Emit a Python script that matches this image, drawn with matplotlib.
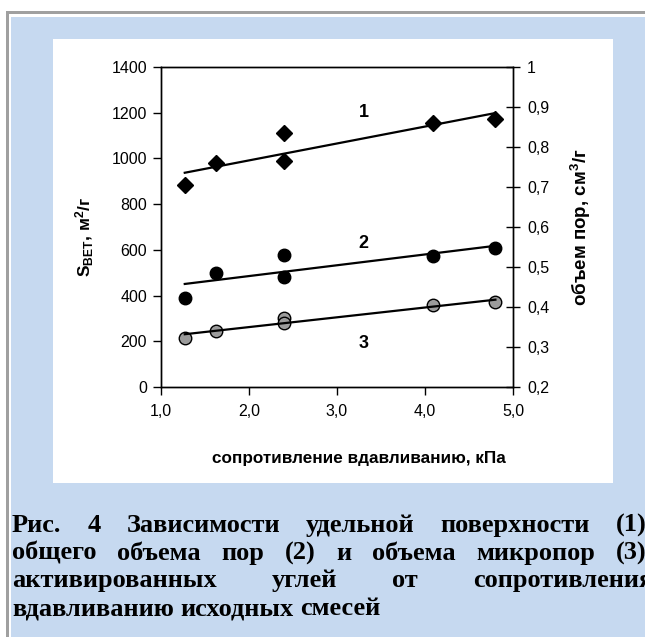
import numpy as np
import matplotlib
matplotlib.use("Agg")
import matplotlib.pyplot as plt
from matplotlib.patches import Rectangle
from matplotlib.ticker import FixedLocator, FuncFormatter

# ---------------- data ----------------
x_vals = [1.27, 1.63, 2.40, 2.40, 4.09, 4.80]          # сопротивление вдавливанию, кПа
s_bet = [884, 978, 1110, 989, 1156, 1171]              # (1) S_BET, м2/г
v_total = [0.422, 0.486, 0.530, 0.476, 0.527, 0.547]   # (2) общий объем пор, см3/г
v_micro = [0.323, 0.341, 0.372, 0.359, 0.404, 0.412]   # (3) объем микропор, см3/г

x_ticks = [1.0, 2.0, 3.0, 4.0, 5.0]
left_ticks = [0, 200, 400, 600, 800, 1000, 1200, 1400]
right_ticks = [0.2, 0.3, 0.4, 0.5, 0.6, 0.7, 0.8, 0.9, 1.0]

caption_lines = [
    ["Рис.", "4", "Зависимости", "удельной", "поверхности", "(1),"],
    ["общего", "объема", "пор", "(2)", "и", "объема", "микропор", "(3),"],
    ["активированных", "углей", "от", "сопротивления"],
    ["вдавливанию", "исходных", "смесей"],
]
caption_justify = [True, True, True, False]

# ---------------- figure ----------------
W, H = 645, 637
fig = plt.figure(figsize=(W / 100, H / 100), dpi=100)
fig.patch.set_facecolor("white")

def fx(px):
    return px / W

def fy(py):
    return 1 - py / H

blue = "#C6D9F0"
grey = "#A0A0A0"
fig.add_artist(Rectangle((fx(11), 0), 1 - fx(11), fy(17), transform=fig.transFigure,
                         facecolor=blue, edgecolor="none", zorder=0))
fig.add_artist(Rectangle((fx(6), 0), fx(2.5), fy(11), transform=fig.transFigure,
                         facecolor=grey, edgecolor="none", zorder=0))
fig.add_artist(Rectangle((fx(6), fy(13.5)), 1 - fx(6), 2.5 / H, transform=fig.transFigure,
                         facecolor=grey, edgecolor="none", zorder=0))
fig.add_artist(Rectangle((fx(53), fy(483)), fx(613) - fx(53), fy(39) - fy(483),
                         transform=fig.transFigure, facecolor="white", edgecolor="none", zorder=0))

plt.rcParams["font.family"] = ["Liberation Sans", "DejaVu Sans"]
plt.rcParams["mathtext.fontset"] = "custom"
plt.rcParams["mathtext.rm"] = "Liberation Sans:bold"
plt.rcParams["mathtext.bf"] = "Liberation Sans:bold"
plt.rcParams["mathtext.it"] = "Liberation Sans:bold"

ax = fig.add_axes([fx(161), fy(387), fx(513) - fx(161), fy(67) - fy(387)])
ax.set_facecolor("none")
ax2 = ax.twinx()

ax.set_xlim(1.0, 5.0)
ax.set_ylim(0, 1400)
ax2.set_ylim(0.2, 1.0)

for a in (ax, ax2):
    for sp in a.spines.values():
        sp.set_linewidth(1.0)
        sp.set_color("black")

ax.xaxis.set_major_locator(FixedLocator(x_ticks))
ax.xaxis.set_major_formatter(FuncFormatter(lambda v, p: f"{v:.1f}".replace(".", ",")))
ax.yaxis.set_major_locator(FixedLocator(left_ticks))
ax2.yaxis.set_major_locator(FixedLocator(right_ticks))
ax2.yaxis.set_major_formatter(FuncFormatter(lambda v, p: ("1" if abs(v - 1) < 1e-9 else f"{v:.1f}".replace(".", ","))))

ax.tick_params(axis="x", direction="out", length=6, width=1, labelsize=11.5, pad=6)
ax.tick_params(axis="y", direction="out", length=6, width=1, labelsize=11.5, pad=4)
ax2.tick_params(axis="y", direction="inout", length=10, width=1, labelsize=11.5, pad=5)

# series 1 (left axis)
ax.plot(x_vals, s_bet, linestyle="none", marker="D", markersize=8.5,
        markerfacecolor="black", markeredgecolor="black", zorder=3)
c1 = np.polyfit(x_vals, s_bet, 1)
xl = np.array([min(x_vals), max(x_vals)])
ax.plot(xl, np.polyval(c1, xl), color="black", linewidth=1.6, zorder=2)

# series 2 and 3 (right axis)
ax2.plot(x_vals, v_total, linestyle="none", marker="o", markersize=9,
         markerfacecolor="black", markeredgecolor="black", zorder=3)
c2 = np.polyfit(x_vals, v_total, 1)
ax2.plot(xl, np.polyval(c2, xl), color="black", linewidth=1.6, zorder=2)

ax2.plot(x_vals, v_micro, linestyle="none", marker="o", markersize=9,
         markerfacecolor="#9B9B9B", markeredgecolor="black", markeredgewidth=1.0, zorder=3)
c3 = np.polyfit(x_vals, v_micro, 1)
ax2.plot(xl, np.polyval(c3, xl), color="black", linewidth=1.6, zorder=4)

# series numbers
ax.text(3.3, 1203, "1", fontsize=13, fontweight="bold", ha="center", va="center")
ax.text(3.3, 630, "2", fontsize=13, fontweight="bold", ha="center", va="center")
ax.text(3.3, 192, "3", fontsize=13, fontweight="bold", ha="center", va="center")

# axis labels
fig.text(fx(359), fy(458), "сопротивление вдавливанию, кПа", fontsize=12.3,
         fontweight="bold", ha="center", va="center")
fig.text(fx(85), fy(237), r"S$_{\mathrm{BET}}$, м$^{2}$/г", fontsize=12.5,
         fontweight="bold", ha="center", va="center", rotation=90)
fig.text(fx(581), fy(227), r"объем пор, см$^{3}$/г", fontsize=13.5,
         fontweight="bold", ha="center", va="center", rotation=90)

# caption (justified)
renderer = fig.canvas.get_renderer()
baselines = [532, 560, 587, 615]
left_px, right_px = 12, 653
cap_kw = dict(fontsize=19, fontweight="bold", family=["Liberation Serif", "DejaVu Serif"],
              ha="left", va="baseline", color="black")
for words, yb, just in zip(caption_lines, baselines, caption_justify):
    texts = [fig.text(0, fy(yb), w, **cap_kw) for w in words]
    widths = [t.get_window_extent(renderer).width for t in texts]
    space = fig.text(0, 0, "a b", **cap_kw).get_window_extent(renderer).width - \
        fig.text(0, 0, "ab", **cap_kw).get_window_extent(renderer).width
    for t in fig.texts[-2:]:
        t.remove()
    if just and len(words) > 1:
        gap = (right_px - left_px - sum(widths)) / (len(words) - 1)
    else:
        gap = space
    x = left_px
    for t, w in zip(texts, widths):
        t.set_x(fx(x))
        x += w + gap

fig.savefig("out.png", dpi=100, facecolor=fig.get_facecolor())
